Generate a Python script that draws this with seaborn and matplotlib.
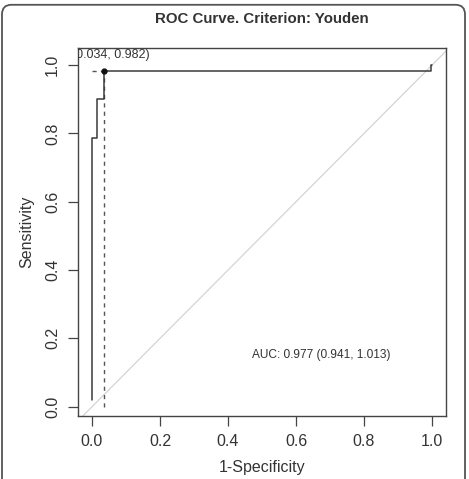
import matplotlib
matplotlib.use("Agg")
import matplotlib.pyplot as plt
import seaborn as sns
import pandas as pd
from matplotlib.patches import FancyBboxPatch

sns.set_theme(style="white")
plt.rcParams['font.family'] = ['Liberation Sans', 'DejaVu Sans']

# ROC curve points (1-specificity, sensitivity)
fpr = [0.0, 0.0, 0.015, 0.015, 0.034, 0.034, 0.997, 0.997, 1.0]
tpr = [0.02, 0.787, 0.787, 0.90, 0.90, 0.982, 0.982, 1.0, 1.0]
cut_x = 0.034
cut_y = 0.982
auc_text = "AUC: 0.977 (0.941, 1.013)"
title = "ROC Curve. Criterion: Youden"
xticks = [0.0, 0.2, 0.4, 0.6, 0.8, 1.0]
yticks = [0.0, 0.2, 0.4, 0.6, 0.8, 1.0]

df = pd.DataFrame({"fpr": fpr, "tpr": tpr})

fig = plt.figure(figsize=(4.69, 4.79), dpi=100)
ax = fig.add_axes([78/469, 1-416/479, (446-78)/469, (416-48)/479])

ax.set_xlim(-0.041, 1.041)
ax.set_ylim(-0.027, 1.05)

# diagonal reference
ax.axline((0, 0), (1, 1), color="#d4d4d4", lw=0.9, zorder=1)

sns.lineplot(data=df, x="fpr", y="tpr", estimator=None, sort=False,
             color="#3a3a3a", lw=1.1, ax=ax, zorder=3)

# cutoff dashed lines
ax.plot([cut_x, cut_x], [0, cut_y], ls=(0, (3, 3)), color="#555555", lw=1.0, zorder=2)
ax.plot([0, cut_x], [cut_y, cut_y], ls=(0, (3, 3)), color="#555555", lw=1.0, zorder=2)
ax.plot([cut_x], [cut_y], 'o', color="#111111", ms=3.5, zorder=4)
ax.text(0.056, 1.03, f"({cut_x:.3f}, {cut_y:.3f})", ha="center", va="center",
        fontsize=9, color="#333333", clip_on=True)

ax.text(0.674, 0.152, auc_text, ha="center", va="center", fontsize=8.6, color="#333333")

ax.set_xticks(xticks)
ax.set_yticks(yticks)
ax.set_xticklabels([f"{v:.1f}" for v in xticks], fontsize=11.5, color="#333333")
ax.set_yticklabels([f"{v:.1f}" for v in yticks], fontsize=11.5, color="#333333",
                   rotation=90, va="center")
ax.tick_params(axis="both", direction="out", length=7, width=0.9, color="#444444",
               bottom=True, left=True, pad=6)
for s in ax.spines.values():
    s.set_color("#444444")
    s.set_linewidth(1.0)

ax.set_xlabel("1-Specificity", fontsize=11.5, color="#333333", labelpad=8)
ax.set_ylabel("Sensitivity", fontsize=11.5, color="#333333", labelpad=8)
ax.set_title(title, fontsize=10.8, fontweight="bold", color="#333333", pad=18)

# outer rounded frame
frame = FancyBboxPatch((2/469, -0.05), 463/469, 1.04, boxstyle="round,pad=0,rounding_size=0.02",
                       transform=fig.transFigure, fill=False, edgecolor="#555555", lw=1.3)
fig.patches.append(frame)

fig.savefig("out.png", dpi=100)
